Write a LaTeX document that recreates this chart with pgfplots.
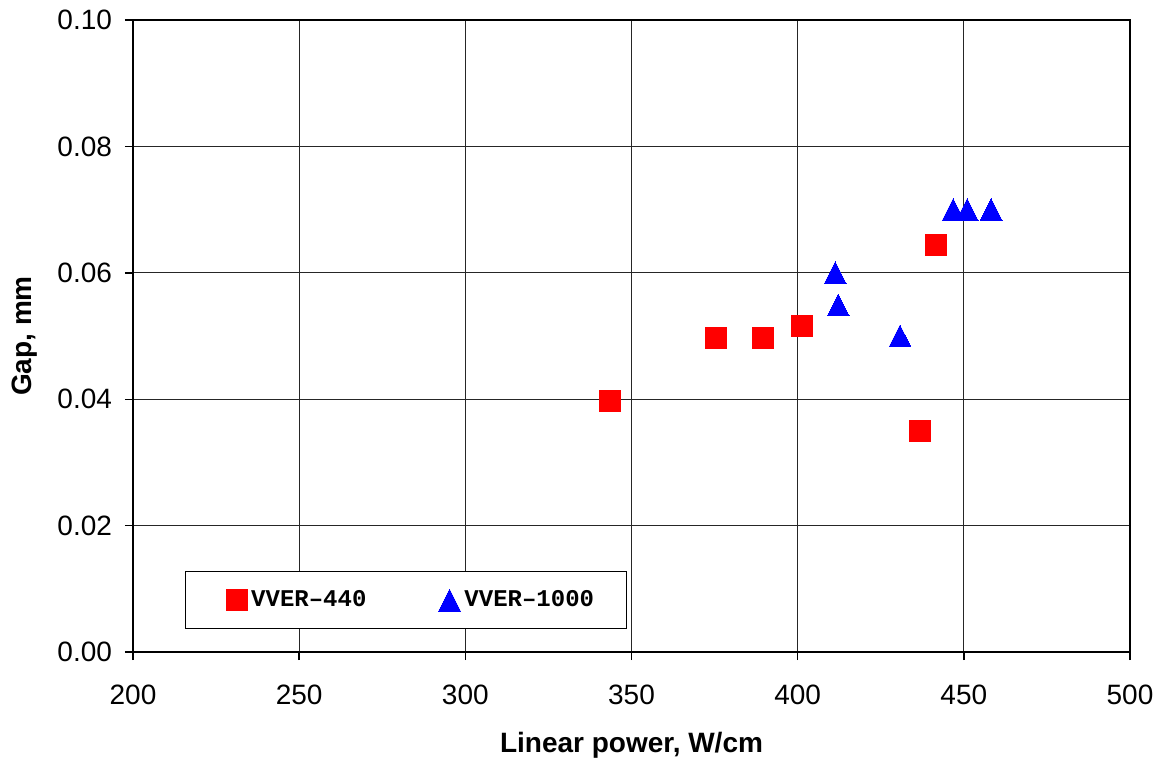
\documentclass[border=0pt]{standalone}
\usepackage{pgfplots}
\pgfplotsset{compat=1.18}
\usepackage{fontspec}
\setmainfont{Liberation Sans}
\newfontfamily\monob{Liberation Mono}
\begin{document}
\begin{tikzpicture}
\useasboundingbox (-66.5pt,-55pt) rectangle (513.5pt,326pt);
\begin{axis}[
  scale only axis,
  width=498.5pt, height=316pt,
  xmin=200, xmax=500, ymin=0, ymax=0.1,
  xtick={200,250,...,500},
  ytick={0,0.02,...,0.1},
  grid=major,
  grid style={black!85, line width=0.55pt},
  axis line style={black, line width=0.8pt},
  tick align=outside,
  major tick length=4pt,
  tick style={black, line width=0.7pt},
  xtick pos=left, ytick pos=left,
  font=\fontsize{14}{16}\selectfont,
  /pgf/number format/assume math mode=true,
  yticklabel style={xshift=-3pt, /pgf/number format/.cd, fixed, fixed zerofill, precision=2},
  xticklabel style={yshift=-9pt, /pgf/number format/.cd, fixed},
  xlabel={\textbf{Linear power, W/cm}},
  ylabel={\textbf{Gap, mm}},
  every axis x label/.style={at={(axis description cs:0.5,-0.147)}, anchor=center},
  every axis y label/.style={at={(axis description cs:-0.1083,0.5)}, rotate=90, anchor=center},
  legend columns=2,
  legend style={at={(axis description cs:0.0522,0.128)}, anchor=north west,
    draw=black, line width=0.6pt, font=\monob\bfseries\fontsize{12}{14}\selectfont,
    inner xsep=14pt, inner ysep=7.5pt,
    /tikz/every even column/.append style={column sep=28pt}},
  legend image code/.code={\path (0pt,0pt); \draw[#1] plot coordinates {(11.25pt,0pt)};},
  legend cell align=left,
]
\addplot[only marks, mark=square*, mark size=5.25pt, color=red, mark options={fill=red, draw=red, line width=0pt}]
  coordinates {(343.5,0.0397)(375.4,0.0497)(389.6,0.0497)(401.3,0.0516)(436.8,0.035)(441.6,0.0644)};
\addlegendentry{VVER–440}
\addplot[only marks, mark=triangle*, mark size=6.3pt, color=blue, mark options={fill=blue, draw=blue, line width=0pt, yshift=-1.8pt, yscale=1.15}]
  coordinates {(411.3,0.060)(412.2,0.0549)(430.8,0.050)(446.8,0.070)(451.0,0.070)(458.2,0.070)};
\addlegendentry{VVER–1000}
\end{axis}
\end{tikzpicture}
\end{document}
